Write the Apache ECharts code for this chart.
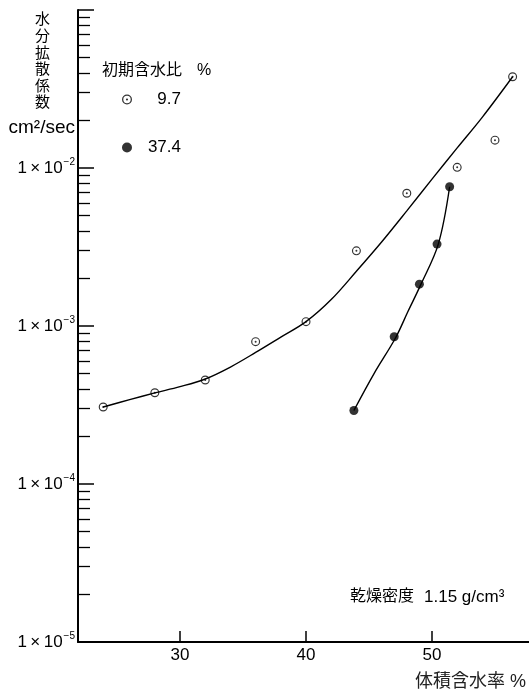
<!DOCTYPE html>
<html>
<head>
<meta charset="utf-8">
<script src="https://cdn.jsdelivr.net/npm/echarts@6/dist/echarts.min.js"></script>
<style>
html,body{margin:0;padding:0;background:#fff;}
#chart{width:529px;height:692px;}
</style>
</head>
<body>
<div id="chart"></div>
<script>
// ---- data ----
const wc97X = [23.9, 28, 32, 36, 40, 44, 48, 52, 55, 56.4];
const wc97Y = [3.07e-4, 3.78e-4, 4.55e-4, 7.96e-4, 1.065e-3, 2.99e-3, 6.92e-3, 1.01e-2, 1.50e-2, 3.78e-2];
const wc374X = [43.8, 47.0, 49.0, 50.4, 51.4];
const wc374Y = [2.92e-4, 8.55e-4, 1.84e-3, 3.30e-3, 7.61e-3];
// fitted curves (hand-drawn in the reference)
const fit97X = [23.9, 26, 28, 30, 32, 34, 36, 38, 40, 42, 44, 46, 48, 50, 52, 54, 56.4];
const fit97Y = [3.07e-4, 3.42e-4, 3.77e-4, 4.13e-4, 4.62e-4, 5.5e-4, 6.8e-4, 8.5e-4, 1.065e-3,
                1.47e-3, 2.22e-3, 3.4e-3, 5.35e-3, 8.5e-3, 1.34e-2, 2.1e-2, 3.78e-2];
const fit374X = [43.8, 45.4, 47.1, 48.1, 49.1, 50.5, 51.4];
const fit374Y = [2.92e-4, 5.0e-4, 8.4e-4, 1.24e-3, 1.82e-3, 3.3e-3, 7.61e-3];
// axis ticks / labels
const xTickValues = [30, 40, 50];
const yLabelValues = [1e-5, 1e-4, 1e-3, 1e-2];
const yMajorTicks = [1e-4, 1e-3, 1e-2, 1e-1];
const yDecades = [1e-5, 1e-4, 1e-3, 1e-2];
const yMinorMultipliers = [2, 3, 4, 5, 6, 7, 8, 9];
const seriesNames = ['9.7', '37.4'];

const yMinorTicks = [];
yDecades.forEach(d => yMinorMultipliers.forEach(m => yMinorTicks.push(m * d)));

const zip = (xs, ys) => xs.map((x, i) => [x, ys[i]]);

const FONT = "'Liberation Sans', 'Noto Sans CJK JP', sans-serif";
const ringSymbol = 'path://M0,-10A10,10 0 1,1 0,10A10,10 0 1,1 0,-10Z' +
  'M0,-7.4A7.4,7.4 0 1,0 0,7.4A7.4,7.4 0 1,0 0,-7.4Z' +
  'M0,-2.2A2.2,2.2 0 1,1 0,2.2A2.2,2.2 0 1,1 0,-2.2Z';

const chart = echarts.init(document.getElementById('chart'), null, {renderer: 'canvas'});

const yBase = {
  type: 'log', logBase: 10, min: 1e-5, max: 1e-1,
  position: 'left', splitLine: {show: false}
};

const option = {
  backgroundColor: '#fff',
  animation: false,
  textStyle: {fontFamily: FONT, color: '#000'},
  grid: {left: 78, right: 0, top: 10, bottom: 50, containLabel: false},
  legend: {
    data: seriesNames,
    orient: 'vertical',
    left: 122, top: 91, padding: 0,
    itemWidth: 10, itemHeight: 10, itemGap: 31,
    formatter: name => '{a|' + name + '}',
    textStyle: {
      fontFamily: FONT, color: '#000', fontSize: 17,
      rich: {a: {width: 44, align: 'right', fontSize: 17, fontFamily: FONT, color: '#000'}}
    }
  },
  xAxis: {
    type: 'value', min: 21.9, max: 57.7,
    axisLine: {lineStyle: {color: '#000', width: 2}},
    axisTick: {customValues: xTickValues, inside: true, length: 11, lineStyle: {color: '#000', width: 1.5}},
    axisLabel: {customValues: xTickValues, color: '#000', fontSize: 17, margin: 5, fontFamily: FONT},
    splitLine: {show: false}
  },
  yAxis: [
    Object.assign({}, yBase, {
      axisLine: {show: true, lineStyle: {color: '#000', width: 2}},
      axisTick: {customValues: yMajorTicks, inside: true, length: 16, lineStyle: {color: '#000', width: 1.5}},
      axisLabel: {
        customValues: yLabelValues, color: '#000', margin: 3, fontSize: 17, fontFamily: FONT,
        formatter: v => '1\u2009×\u200910{s|\u2212' + Math.abs(Math.round(Math.log10(v))) + '}',
        rich: {s: {fontSize: 10, fontFamily: FONT, color: '#000', padding: [0, 0, 11, 1]}}
      }
    }),
    Object.assign({}, yBase, {
      axisLine: {show: false},
      axisTick: {customValues: yMinorTicks, inside: true, length: 12, lineStyle: {color: '#000', width: 1.3}},
      axisLabel: {show: false}
    })
  ],
  series: [
    {
      name: 'fit97', type: 'line', data: zip(fit97X, fit97Y), smooth: 0.35,
      showSymbol: false, symbol: 'none', lineStyle: {color: '#000', width: 1.4}, z: 1
    },
    {
      name: 'fit374', type: 'line', data: zip(fit374X, fit374Y), smooth: 0.35,
      showSymbol: false, symbol: 'none', lineStyle: {color: '#000', width: 1.4}, z: 1
    },
    {
      name: seriesNames[0], type: 'scatter', data: zip(wc97X, wc97Y),
      symbol: ringSymbol, symbolSize: 9, itemStyle: {color: '#000'}, z: 3
    },
    {
      name: seriesNames[1], type: 'scatter', data: zip(wc374X, wc374Y),
      symbol: 'circle', symbolSize: 9, itemStyle: {color: '#000'}, z: 3
    }
  ],
  graphic: [
    {type: 'text', left: 35, top: 12, style: {
      text: '水\n分\n拡\n散\n係\n数', font: '15px ' + FONT, lineHeight: 16.6, fill: '#000', align: 'center'}},
    {type: 'text', right: 454, top: 118, style: {
      text: 'cm²/sec', font: '19px ' + FONT, fill: '#000'}},
    {type: 'text', left: 102, top: 63, style: {
      text: '初期含水比', font: '16px ' + FONT, fill: '#000'}},
    {type: 'text', left: 197, top: 63, style: {
      text: '%', font: '16px ' + FONT, fill: '#000'}},
    {type: 'text', left: 350, top: 589, style: {
      text: '乾燥密度', font: '16px ' + FONT, fill: '#000'}},
    {type: 'text', left: 424, top: 589, style: {
      text: '1.15 g/cm³', font: '17px ' + FONT, fill: '#000'}},
    {type: 'text', left: 415, top: 673, style: {
      text: '体積含水率 %', font: '18px ' + FONT, fill: '#222'}}
  ]
};
chart.setOption(option);
</script>
</body>
</html>
